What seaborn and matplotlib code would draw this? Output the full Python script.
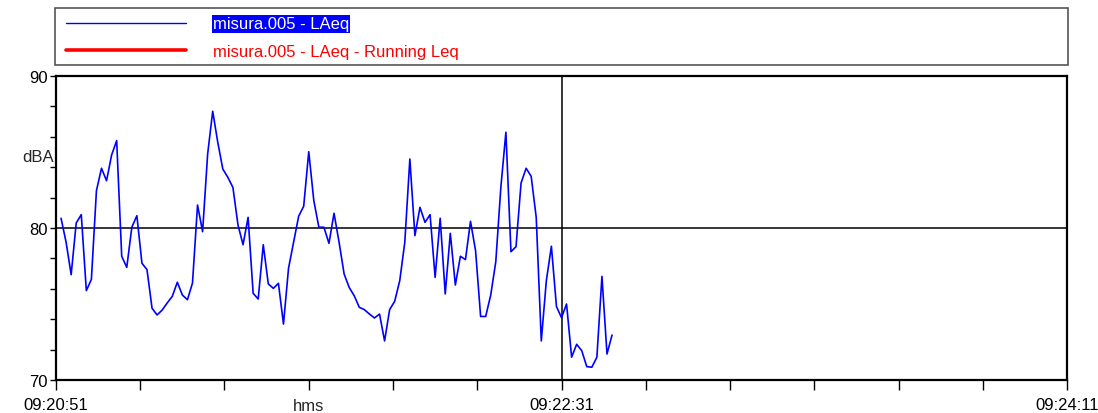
import numpy as np
import pandas as pd
import matplotlib
matplotlib.use("Agg")
import matplotlib.pyplot as plt
from matplotlib.lines import Line2D
from matplotlib.patches import Rectangle
from matplotlib.ticker import MultipleLocator, FixedLocator
import seaborn as sns

# ---- data ----
laeq = [80.64, 79.06, 76.93, 80.33, 80.88, 75.88, 76.62, 82.46, 83.93, 83.11,
        84.80, 85.75, 78.14, 77.41, 80.05, 80.81, 77.68, 77.26, 74.72, 74.28,
        74.60, 75.07, 75.50, 76.43, 75.59, 75.28, 76.38, 81.51, 79.76, 84.87,
        87.68, 85.64, 83.88, 83.33, 82.67, 80.20, 78.90, 80.70, 75.70, 75.33,
        78.90, 76.32, 76.03, 76.36, 73.68, 77.35, 79.06, 80.77, 81.43, 85.02,
        81.80, 80.05, 80.05, 78.99, 80.97, 79.06, 76.97, 76.09, 75.54, 74.78,
        74.63, 74.34, 74.08, 74.34, 72.57, 74.63, 75.18, 76.53, 79.06, 84.54,
        79.50, 81.36, 80.37, 80.88, 76.75, 80.64, 75.66, 79.65, 76.25, 78.14,
        77.92, 80.44, 78.51, 74.18, 74.18, 75.59, 77.78, 82.67, 86.30, 78.44,
        78.77, 82.96, 83.93, 83.40, 80.70, 72.57, 76.53, 78.80, 74.84, 74.10,
        75.00, 71.50, 72.35, 71.93, 70.88, 70.84, 71.50, 76.82, 71.71, 72.96]
seconds = list(range(1, len(laeq) + 1))   # seconds after 09:20:51
xtick_values = [0, 100, 200]
xtick_labels = ["09:20:51", "09:22:31", "09:24:11"]
ytick_values = [70, 80, 90]
series_names = ["misura.005 - LAeq", "misura.005 - LAeq - Running Leq"]
cursor_time = 100
cursor_level = 80

df = pd.DataFrame({"t": seconds, "LAeq": laeq})

sns.set_style("white")
plt.rcParams["font.family"] = ["Liberation Sans", "DejaVu Sans"]
FS = 12

W, H = 1098, 414
fig = plt.figure(figsize=(W / 100, H / 100), dpi=100)
L, R, T, B = 56, 1067, 77, 381
ax = fig.add_axes([L / W, (H - B) / H, (R - L) / W, (B - T) / H])

sns.lineplot(data=df, x="t", y="LAeq", ax=ax, color="#0000ff", linewidth=1.2,
             legend=False)

ax.axhline(cursor_level, color="black", lw=1.1, zorder=1)
ax.axvline(cursor_time, color="black", lw=1.1, zorder=1)

ax.set_xlim(0, 200)
ax.set_ylim(70, 90)
ax.set_xlabel("")
ax.set_ylabel("")

for s in ax.spines.values():
    s.set_visible(True)
    s.set_color("black")
    s.set_linewidth(1.6)

ax.xaxis.set_major_locator(FixedLocator(xtick_values))
ax.set_xticklabels(xtick_labels)
ax.xaxis.set_minor_locator(MultipleLocator(200 / 12))
ax.yaxis.set_major_locator(FixedLocator(ytick_values))
ax.yaxis.set_minor_locator(MultipleLocator(2))

ax.tick_params(axis="x", which="both", direction="out", length=7, width=1,
               colors="black", bottom=True, labelsize=FS, pad=5)
ax.tick_params(axis="y", which="both", direction="out", length=4, width=1,
               colors="black", left=True, labelsize=FS, pad=2)

ax.text(50, -0.06, "hms", transform=ax.get_xaxis_transform(), ha="center",
        va="top", fontsize=FS)
ax.text(-0.002, 84.7, "dBA", transform=ax.get_yaxis_transform(), ha="right",
        va="center", fontsize=FS)

# legend box
fig.patches.append(Rectangle((55 / W, 1 - 66 / H), 1013 / W, 57 / H,
                             transform=fig.transFigure, fill=False,
                             edgecolor="#555555", lw=1.2))
handles = [Line2D([], [], color="#0000ff", lw=1.0),
           Line2D([], [], color="#ff0000", lw=2.6)]
leg = fig.legend(handles, series_names, loc="upper left",
                 bbox_to_anchor=(66 / W, 1 - 17.5 / H),
                 borderaxespad=0, borderpad=0, fontsize=FS,
                 handlelength=7.2, handletextpad=1.6, labelspacing=0.75,
                 frameon=False)
t0, t1 = leg.get_texts()
t0.set_color("white")
t0.set_bbox(dict(facecolor="#0000ff", edgecolor="none", pad=0.8))
t1.set_color("#ff0000")

fig.savefig("out.png", dpi=100)
